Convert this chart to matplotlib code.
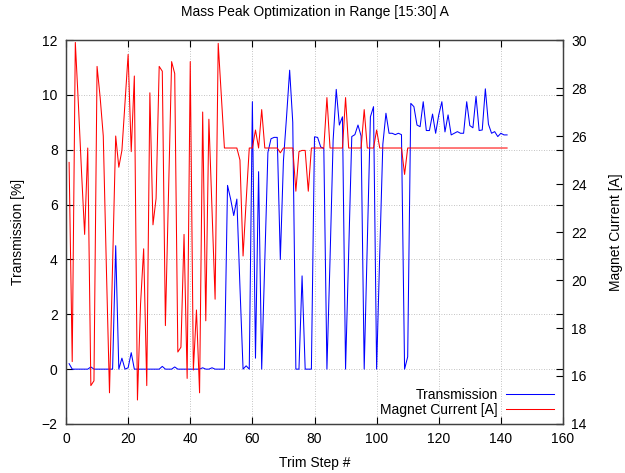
import numpy as np
import matplotlib
matplotlib.use("Agg")
import matplotlib.pyplot as plt

plt.rcParams['font.family'] = ['Liberation Sans', 'DejaVu Sans']

# passo de trim (1..142)
trim_step = np.arange(1, 143)

# Transmission [%]
transmission = [
    0.2, 0.0, 0.0, 0.0, 0.0, 0.0, 0.0, 0.08, 0.0, 0.0,
    0.0, 0.0, 0.0, 0.0, 0.0, 4.5, 0.0, 0.4, 0.0, 0.05,
    0.6, 0.0, 0.0, 0.0, 0.0, 0.0, 0.0, 0.0, 0.0, 0.0,
    0.1, 0.0, 0.0, 0.0, 0.08, 0.0, 0.0, 0.0, 0.0, 0.0,
    0.0, 0.0, 0.0, 0.05, 0.0, 0.0, 0.05, 0.0, 0.0, 0.0,
    0.0, 6.7, 6.2, 5.6, 6.2, 3.0, 0.0, 0.12, 0.0, 9.75,
    0.4, 7.2, 0.0, 3.9, 7.9, 8.4, 8.45, 8.45, 4.0, 7.6,
    9.2, 10.9, 9.0, 0.0, 0.0, 3.4, 0.0, 0.0, 0.0, 8.47,
    8.45, 8.1, 8.05, 0.0, 4.0, 8.35, 10.2, 8.9, 9.2, 0.0,
    4.2, 8.48, 8.55, 8.9, 8.5, 0.0, 4.6, 9.2, 9.57, 0.0,
    4.2, 8.2, 9.33, 8.6, 8.6, 8.55, 8.6, 8.55, 0.0, 0.45,
    9.69, 9.57, 8.9, 8.84, 9.75, 8.7, 8.7, 9.3, 8.6, 9.27,
    9.75, 8.65, 9.27, 8.54, 8.6, 8.66, 8.6, 8.6, 9.75, 8.88,
    8.8, 9.95, 8.7, 8.72, 10.22, 8.93, 8.6, 8.66, 8.48, 8.6,
    8.54, 8.54,
]

# Magnet Current [A]
magnet_current = [
    24.9, 16.6, 29.9, 27.3, 24.5, 21.9, 25.5, 15.6, 15.8, 28.9,
    27.6, 26.0, 20.5, 15.3, 20.6, 26.0, 24.7, 25.4, 27.4, 29.4,
    25.35, 28.5, 15.0, 19.0, 21.3, 15.6, 27.8, 22.3, 23.4, 28.9,
    28.7, 18.1, 23.6, 29.1, 28.6, 17.0, 17.2, 21.9, 15.9, 29.1,
    16.25, 18.75, 15.3, 27.0, 18.3, 26.7, 23.0, 19.2, 29.86, 27.7,
    25.5, 25.5, 25.5, 25.5, 25.5, 25.0, 21.0, 23.3, 25.5, 25.5,
    26.25, 25.5, 27.1, 25.5, 25.5, 25.5, 25.5, 25.5, 25.3, 25.5,
    25.5, 25.5, 25.5, 23.7, 25.35, 25.4, 25.4, 23.7, 25.5, 25.5,
    25.5, 25.5, 25.5, 27.6, 25.5, 25.5, 25.5, 25.5, 25.5, 27.6,
    25.5, 25.5, 25.5, 25.5, 25.5, 27.1, 25.5, 25.5, 25.5, 26.25,
    25.5, 25.5, 25.5, 25.5, 25.5, 25.5, 25.5, 25.5, 24.4, 25.5,
    25.5, 25.5, 25.5, 25.5, 25.5, 25.5, 25.5, 25.5, 25.5, 25.5,
    25.5, 25.5, 25.5, 25.5, 25.5, 25.5, 25.5, 25.5, 25.5, 25.5,
    25.5, 25.5, 25.5, 25.5, 25.5, 25.5, 25.5, 25.5, 25.5, 25.5,
    25.5, 25.5,
]

fig = plt.figure(figsize=(6.25, 4.73), dpi=100)
ax1 = fig.add_axes([0.1056, 0.1036, 0.7952, 0.8118])
ax2 = ax1.twinx()

l1, = ax1.plot(trim_step, transmission, color='#0000ff', linewidth=0.75, label='Transmission')
l2, = ax2.plot(trim_step, magnet_current, color='#ff0000', linewidth=0.75, label='Magnet Current [A]')

ax1.set_xlim(0, 160)
ax1.set_ylim(-2, 12)
ax2.set_ylim(14, 30)
ax1.set_xticks(np.arange(0, 161, 20))
ax1.set_yticks(np.arange(-2, 13, 2))
ax2.set_yticks(np.arange(14, 31, 2))

ax1.grid(True, color='#b0b0b0', linestyle=(0, (1, 2)), linewidth=0.6)

ax1.tick_params(direction='in', length=5, width=0.8, top=True, right=True,
                labelsize=10, pad=6, colors='black')
ax2.tick_params(direction='in', length=5, width=0.8, labelsize=10, pad=6)

for a in (ax1, ax2):
    for sp in a.spines.values():
        sp.set_color('#404040')
        sp.set_linewidth(0.9)

ax1.set_xlabel('Trim Step #', fontsize=10, labelpad=7)
ax1.set_ylabel('Transmission [%]', fontsize=10, labelpad=12)
ax2.set_ylabel('Magnet Current [A]', fontsize=10, labelpad=16)
ax1.set_title('Mass Peak Optimization in Range [15:30] A', fontsize=10, pad=17)

ax2.legend(handles=[l1, l2], loc='lower right', frameon=False, markerfirst=False,
           fontsize=10, handlelength=3.4, handletextpad=0.6, labelspacing=0.05,
           borderaxespad=0.1, bbox_to_anchor=(0.995, 0.0))

fig.savefig('out.png', dpi=100)
